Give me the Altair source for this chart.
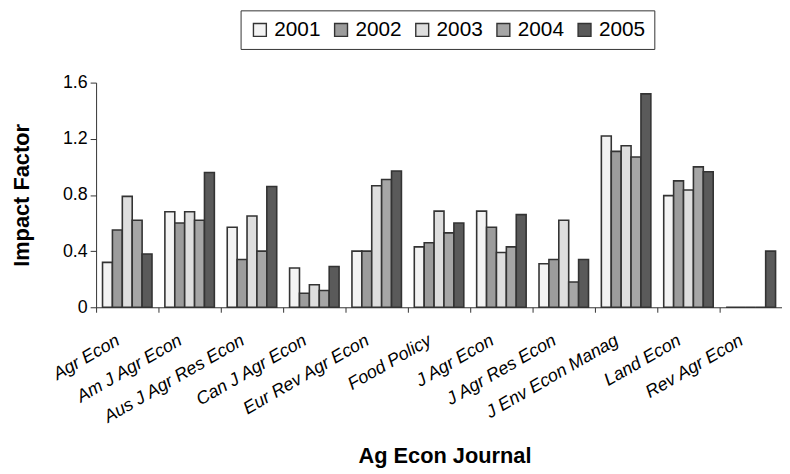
import altair as alt
import pandas as pd

journals = ["Agr Econ", "Am J Agr Econ", "Aus J Agr Res Econ", "Can J Agr Econ",
            "Eur Rev Agr Econ", "Food Policy", "J Agr Econ", "J Agr Res Econ",
            "J Env Econ Manag", "Land Econ", "Rev Agr Econ"]
years = ["2001", "2002", "2003", "2004", "2005"]
v2001 = [0.32, 0.68, 0.57, 0.28, 0.40, 0.43, 0.685, 0.31, 1.22, 0.795, 0.0]
v2002 = [0.55, 0.60, 0.34, 0.10, 0.40, 0.46, 0.57, 0.34, 1.11, 0.90, 0.0]
v2003 = [0.79, 0.68, 0.65, 0.16, 0.865, 0.685, 0.39, 0.62, 1.15, 0.835, 0.0]
v2004 = [0.62, 0.62, 0.40, 0.12, 0.91, 0.53, 0.43, 0.18, 1.07, 1.00, 0.0]
v2005 = [0.38, 0.96, 0.86, 0.29, 0.97, 0.60, 0.66, 0.34, 1.52, 0.965, 0.40]
colors = ["#f3f3f3", "#9c9c9c", "#dedede", "#a6a6a6", "#5a5a5a"]

series = [v2001, v2002, v2003, v2004, v2005]
rows = []
for y, vals in zip(years, series):
    for j, v in zip(journals, vals):
        rows.append({"journal": j, "year": y, "value": v})
df = pd.DataFrame(rows)

FONT = "Liberation Sans"

chart = alt.Chart(df).mark_bar(stroke="#333333", strokeWidth=1.6).encode(
    x=alt.X("journal:N", sort=journals,
            scale=alt.Scale(paddingInner=0, paddingOuter=0),
            axis=alt.Axis(title="Ag Econ Journal", bandPosition=0,
                          labelAngle=-30, labelAlign="right", labelBaseline="middle",
                          labelOffset=-9, labelPadding=27, labelFontSize=18,
                          labelFontStyle="italic", labelFont=FONT, labelColor="#000",
                          tickSize=5, tickColor="#333", domainColor="#333",
                          titleFont=FONT, titleFontSize=22, titleFontWeight="bold",
                          titleColor="#000", titleX=352, titleY=157,
                          titleBaseline="alphabetic", titleAnchor="middle")),
    xOffset=alt.XOffset("year:N", sort=years,
                        scale=alt.Scale(paddingInner=0, paddingOuter=0.65)),
    y=alt.Y("value:Q", scale=alt.Scale(domain=[0, 1.6], nice=False),
            axis=alt.Axis(title="Impact Factor", values=[0, 0.4, 0.8, 1.2, 1.6],
                          format=".1~f", grid=False, labelFontSize=18, labelFont=FONT,
                          labelColor="#000", labelPadding=3,
                          tickSize=6, tickColor="#333", domainColor="#333",
                          titleFont=FONT, titleFontSize=22, titleFontWeight="bold",
                          titleColor="#000", titleX=-75, titleY=113.5,
                          titleBaseline="middle", titleAngle=-90)),
    color=alt.Color("year:N", sort=years,
                    scale=alt.Scale(domain=years, range=colors),
                    legend=alt.Legend(title=None, orient="none", legendX=146, legendY=-73,
                                      direction="horizontal", strokeColor="#333",
                                      padding=9, symbolType="square", symbolSize=170,
                                      symbolStrokeColor="#333", symbolStrokeWidth=1.4,
                                      labelFontSize=21, labelFont=FONT, labelColor="#000",
                                      labelOffset=4, columnPadding=10)),
).properties(
    width=693, height=227,
    autosize=alt.AutoSizeParams(type="none"),
    padding={"left": 89, "top": 73, "right": 0, "bottom": 160},
).configure_view(stroke=None)

chart.save("out.html", embed_options={"renderer": "svg", "actions": False})
